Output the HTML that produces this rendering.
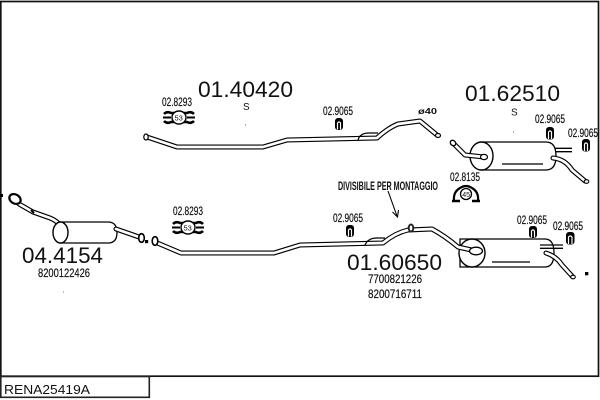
<!DOCTYPE html>
<html><head><meta charset="utf-8">
<style>
html,body{margin:0;padding:0;background:#fff;}
svg{display:block;}
text{font-family:"Liberation Sans",sans-serif;fill:#111;}
.po{fill:none;stroke:#000;stroke-width:5;stroke-linejoin:round;stroke-linecap:round}
.pi{fill:none;stroke:#fff;stroke-width:2.7;stroke-linejoin:round;stroke-linecap:round}
.ln{fill:none;stroke:#000;stroke-width:1.2}
.big{font-size:22px}
.sm{font-size:12px;stroke:#111;stroke-width:0.2}
</style></head>
<body>
<svg width="600" height="400" viewBox="0 0 600 400" xmlns="http://www.w3.org/2000/svg">
<!-- frame -->
<rect x="0.8" y="1.5" width="597.7" height="374.7" fill="none" stroke="#111" stroke-width="1.7"/>
<rect x="0.8" y="376.5" width="148.5" height="20.8" fill="none" stroke="#222" stroke-width="1.6"/>
<text x="4" y="394" font-size="12.5" textLength="86" lengthAdjust="spacingAndGlyphs">RENA25419A</text>

<!-- ===== TOP PIPE 01.40420 ===== -->
<path class="po" d="M147,137 L177,147 L263,147 L287,140 L377,138 Q388,128 398,124 L420,121 L437,135"/>
<path class="pi" d="M147,137 L177,147 L263,147 L287,140 L377,138 Q388,128 398,124 L420,121 L437,135"/>
<ellipse cx="146" cy="137" rx="2.2" ry="3" fill="#fff" stroke="#000" stroke-width="1.2"/>
<ellipse cx="438" cy="135.5" rx="2.5" ry="2" fill="#fff" stroke="#000" stroke-width="1.2"/>
<path class="ln" d="M358,140 Q360,133 369,133 L378,133"/>
<text x="198" y="97" class="big" textLength="95" lengthAdjust="spacingAndGlyphs">01.40420</text>
<text x="243" y="110" font-size="10">S</text>
<rect x="245" y="124.5" width="1" height="1" fill="#555"/>
<text x="162" y="106" class="sm" textLength="30" lengthAdjust="spacingAndGlyphs">02.8293</text>
<text x="323" y="115" class="sm" textLength="30" lengthAdjust="spacingAndGlyphs">02.9065</text>
<text x="418" y="114" font-size="8" font-weight="bold" textLength="19" lengthAdjust="spacingAndGlyphs">ø40</text>

<!-- clamp top 02.8293 -->
<g transform="translate(163,110)">
  <path d="M1,4 Q4,1 8,3 L24,3 Q28,1 31,4" fill="none" stroke="#000" stroke-width="2.6"/>
  <path d="M1,11 Q4,14 8,12 L24,12 Q28,14 31,11" fill="none" stroke="#000" stroke-width="2.6"/>
  <path d="M0,7.5 L8,7.5 M24,7.5 L32,7.5" stroke="#000" stroke-width="2"/>
  <ellipse cx="16" cy="7.5" rx="7" ry="6.5" fill="#fff" stroke="#000" stroke-width="1.4"/>
  <text x="11.5" y="10.5" font-size="7.5">53</text>
</g>
<!-- hanger -->
<g transform="translate(335,118)">
  <rect x="0" y="0" width="8" height="12" rx="3" fill="#000"/>
  <path d="M2.5,11.5 V5 Q4,2.8 5.5,5 V11.5" fill="none" stroke="#fff" stroke-width="1.2"/>
</g>

<!-- ===== TOP RIGHT 01.62510 ===== -->
<path d="M481,142 L546,142 Q556,142 556,156 Q556,170 546,170 L481,170 Z" fill="#fff" stroke="#000" stroke-width="1.3"/>
<path class="ln" d="M502,164 L543,164"/>
<path d="M555,148.3 L572,148.3 M555,151.7 L572,151.7" stroke="#000" stroke-width="1.3"/>
<path class="po" d="M553,158 Q565,159 572,170 L585,181"/>
<path class="pi" d="M553,158 Q565,159 572,170 L585,181"/>
<ellipse cx="586.5" cy="181.5" rx="2.3" ry="1.8" fill="#fff" stroke="#000" stroke-width="1.1"/>
<ellipse cx="481.5" cy="156" rx="11.5" ry="14" fill="#fff" stroke="#000" stroke-width="1.4"/>
<path class="po" d="M455,145 L465,155 L484,157"/>
<path class="pi" d="M455,145 L465,155 L484,157"/>
<ellipse cx="484" cy="157" rx="3.5" ry="2.6" fill="#fff" stroke="#000" stroke-width="1.2"/>
<ellipse cx="453" cy="143" rx="3" ry="2.4" transform="rotate(40 453 143)" fill="#fff" stroke="#000" stroke-width="1.3"/>
<text x="465" y="101" class="big" textLength="95" lengthAdjust="spacingAndGlyphs">01.62510</text>
<text x="511" y="115.5" font-size="10">S</text>
<rect x="513" y="131.5" width="1" height="1" fill="#555"/>
<text x="535" y="123" class="sm" textLength="30" lengthAdjust="spacingAndGlyphs">02.9065</text>
<text x="568" y="137" class="sm" textLength="30" lengthAdjust="spacingAndGlyphs">02.9065</text>
<g transform="translate(546,127)">
  <rect x="0" y="0" width="8" height="12.5" rx="3" fill="#000"/>
  <path d="M2.5,12 V5 Q4,2.8 5.5,5 V12" fill="none" stroke="#fff" stroke-width="1.2"/>
</g>
<g transform="translate(582,139)">
  <rect x="0" y="0" width="8" height="12.5" rx="3" fill="#000"/>
  <path d="M2.5,12 V5 Q4,2.8 5.5,5 V12" fill="none" stroke="#fff" stroke-width="1.2"/>
</g>

<!-- 02.8135 clamp -->
<text x="450" y="181" class="sm" textLength="30" lengthAdjust="spacingAndGlyphs">02.8135</text>
<g transform="translate(452,184)">
  <path d="M2,17 Q1,8 8,4 Q14,0 20,4 Q27,8 26,17" fill="none" stroke="#000" stroke-width="2.2"/>
  <path d="M0,17 L8,17 M20,17 L28,17" stroke="#000" stroke-width="2.4"/>
  <circle cx="14" cy="10" r="5.5" fill="#fff" stroke="#000" stroke-width="1.3"/>
  <text x="10.2" y="12.8" font-size="7">45</text>
</g>

<!-- ===== LEFT 04.4154 ===== -->
<rect x="0" y="194" width="3" height="3" fill="#000"/>
<path class="po" d="M19,204 L33,212 L50,218 Q58,221 62,228"/>
<path class="pi" d="M19,204 L33,212 L50,218 Q58,221 62,228"/>
<path d="M31,210 L34,213" stroke="#000" stroke-width="2"/>
<ellipse cx="15" cy="199" rx="6" ry="4.5" transform="rotate(30 15 199)" fill="#fff" stroke="#000" stroke-width="2.2"/>
<path d="M60,222 L108,222 Q117,222 117,232.5 Q117,243 108,243 L60,243 Z" fill="#fff" stroke="#000" stroke-width="1.3"/>
<ellipse cx="60.5" cy="232.5" rx="7.5" ry="10.5" fill="#fff" stroke="#000" stroke-width="1.4"/>
<path class="po" d="M116,229 L139,237"/>
<path class="pi" d="M116,229 L139,237"/>
<ellipse cx="141.5" cy="238" rx="2.8" ry="4.3" fill="#fff" stroke="#000" stroke-width="1.6"/>
<rect x="145" y="240" width="3.2" height="3.2" fill="#000"/>
<text x="22" y="263" class="big" textLength="81" lengthAdjust="spacingAndGlyphs">04.4154</text>
<text x="38" y="277" class="sm" textLength="52" lengthAdjust="spacingAndGlyphs">8200122426</text>
<rect x="63" y="291.5" width="1" height="1" fill="#777"/>

<!-- ===== BOTTOM PIPE 01.60650 ===== -->
<path d="M460,239 L545,239 Q554,239 554,253 Q554,267 545,267 L460,267 Z" fill="#fff" stroke="#000" stroke-width="1.3"/>
<path class="ln" d="M492,262 L530,262"/>
<path d="M540,245 L563,245 M540,248.3 L563,248.3" stroke="#000" stroke-width="1.3"/>
<path class="po" d="M546,253 Q556,256 562,265 L572,276"/>
<path class="pi" d="M546,253 Q556,256 562,265 L572,276"/>
<ellipse cx="573" cy="277" rx="2.3" ry="1.8" fill="#fff" stroke="#000" stroke-width="1.1"/>
<rect x="585" y="272" width="3.3" height="3.3" fill="#000"/>
<ellipse cx="472" cy="253" rx="13" ry="14" fill="#fff" stroke="#000" stroke-width="1.4"/>

<path class="po" d="M155,242 L181,253 L274,253 L300,245 L383,243 Q395,233 408,230 L432,229 Q445,236 458,247 L476,251"/>
<path class="pi" d="M155,242 L181,253 L274,253 L300,245 L383,243 Q395,233 408,230 L432,229 Q445,236 458,247 L476,251"/>
<ellipse cx="476" cy="251" rx="6.5" ry="3.8" fill="#fff" stroke="#000" stroke-width="1.3"/>
<ellipse cx="155" cy="241" rx="2.8" ry="4.3" fill="#fff" stroke="#000" stroke-width="1.6"/>
<path class="ln" d="M365,245 Q368,238 377,238 L385,238"/>
<ellipse cx="411" cy="228" rx="3.3" ry="4.5" fill="#222"/>
<ellipse cx="411" cy="228" rx="1.3" ry="2.5" fill="#fff"/>

<text x="173" y="215" class="sm" textLength="30" lengthAdjust="spacingAndGlyphs">02.8293</text>
<g transform="translate(172,220)">
  <path d="M1,4 Q4,1 8,3 L24,3 Q28,1 31,4" fill="none" stroke="#000" stroke-width="2.6"/>
  <path d="M1,11 Q4,14 8,12 L24,12 Q28,14 31,11" fill="none" stroke="#000" stroke-width="2.6"/>
  <path d="M0,7.5 L8,7.5 M24,7.5 L32,7.5" stroke="#000" stroke-width="2"/>
  <ellipse cx="16" cy="7.5" rx="7" ry="6.5" fill="#fff" stroke="#000" stroke-width="1.4"/>
  <text x="11.5" y="10.5" font-size="7.5">53</text>
</g>
<text x="333" y="222" class="sm" textLength="30" lengthAdjust="spacingAndGlyphs">02.9065</text>
<g transform="translate(346,225)">
  <rect x="0" y="0" width="8" height="12" rx="3" fill="#000"/>
  <path d="M2.5,11.5 V5 Q4,2.8 5.5,5 V11.5" fill="none" stroke="#fff" stroke-width="1.2"/>
</g>
<text x="517" y="224" class="sm" textLength="30" lengthAdjust="spacingAndGlyphs">02.9065</text>
<g transform="translate(529,226)">
  <rect x="0" y="0" width="8" height="12" rx="3" fill="#000"/>
  <path d="M2.5,11.5 V5 Q4,2.8 5.5,5 V11.5" fill="none" stroke="#fff" stroke-width="1.2"/>
</g>
<text x="553" y="230" class="sm" textLength="30" lengthAdjust="spacingAndGlyphs">02.9065</text>
<g transform="translate(566,232)">
  <rect x="0" y="0" width="8.5" height="12.5" rx="3" fill="#000"/>
  <path d="M2.5,12 V5 Q4.2,2.8 6,5 V12" fill="none" stroke="#fff" stroke-width="1.2"/>
</g>

<text x="338" y="190" font-size="11.5" font-weight="bold" textLength="100" lengthAdjust="spacingAndGlyphs">DIVISIBILE PER MONTAGGIO</text>
<path d="M388,191 L397,216" stroke="#000" stroke-width="1.1" fill="none"/>
<path d="M392.5,212 L397.5,217 L398.5,210" stroke="#000" stroke-width="1.1" fill="none"/>

<text x="347" y="270" class="big" textLength="95" lengthAdjust="spacingAndGlyphs">01.60650</text>
<text x="368" y="283" class="sm" textLength="54" lengthAdjust="spacingAndGlyphs">7700821226</text>
<text x="368" y="298" class="sm" textLength="54" lengthAdjust="spacingAndGlyphs">8200716711</text>
</svg>
</body></html>
